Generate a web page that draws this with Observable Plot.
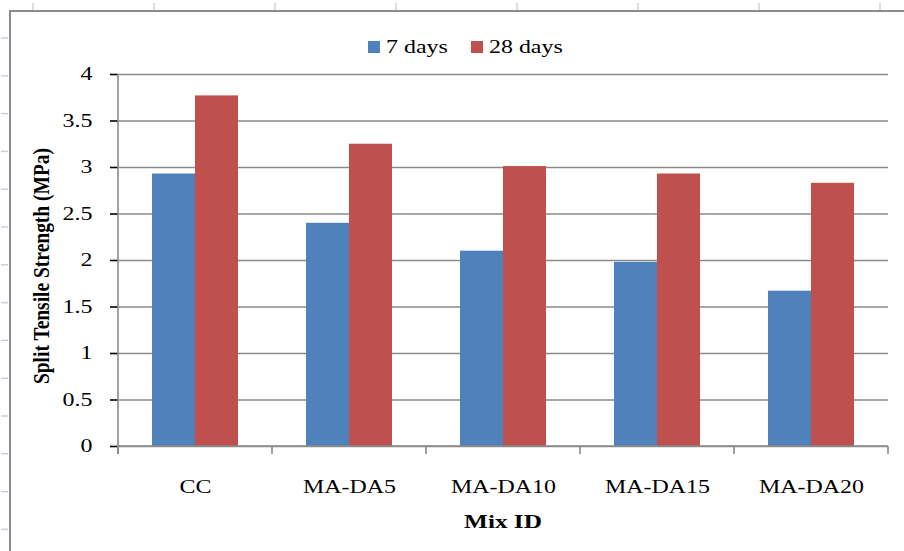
<!DOCTYPE html>
<html><head><meta charset="utf-8">
<script src="https://cdn.jsdelivr.net/npm/d3@7"></script>
<script src="https://cdn.jsdelivr.net/npm/@observablehq/plot@0.6"></script>
<style>
body{margin:0;background:#fff}
#chart{position:relative;width:904px;height:551px;overflow:hidden}
</style>
</head><body><div id="chart"></div>
<script>
const categories = ["CC", "MA-DA5", "MA-DA10", "MA-DA15", "MA-DA20"];
const series = ["7 days", "28 days"];
const days7 = [2.93, 2.40, 2.10, 1.98, 1.67];
const days28 = [3.77, 3.25, 3.01, 2.93, 2.83];
const colors = ["#4F81BD", "#C0504D"];
const yTicks = [0, 0.5, 1, 1.5, 2, 2.5, 3, 3.5, 4];
const yTitle = "Split Tensile Strength (MPa)";
const xTitle = "Mix ID";

const data = categories.flatMap((c, i) => [
  {cat: c, series: series[0], value: days7[i]},
  {cat: c, series: series[1], value: days28[i]}
]);

const FONT = "'Liberation Serif','Times New Roman',serif";
const GRID = "#8a8a8a";
const STRETCH = 1.33;

const plot = Plot.plot({
  width: 904, height: 551,
  marginLeft: 116, marginRight: 15, marginTop: 74, marginBottom: 105,
  style: {fontFamily: FONT, fontSize: "18px", color: "#000", background: "transparent", overflow: "visible"},
  fx: {domain: categories, padding: 0, label: null, axis: "bottom", tickSize: 0, tickPadding: 34},
  x: {domain: series, paddingInner: 0, paddingOuter: 0.76, axis: null},
  y: {domain: [0, 4], ticks: yTicks, label: null, tickSize: 8, tickPadding: 18, tickFormat: d => String(d)},
  color: {domain: series, range: colors},
  marks: [
    Plot.gridY(yTicks, {stroke: GRID, strokeOpacity: 1, strokeWidth: 1.6}),
    Plot.barY(data, {fx: "cat", x: "series", y: "value", fill: "series"})
  ]
});

document.getElementById("chart").append(plot);
const svg = d3.select(plot);

svg.selectAll("[aria-label='y-axis tick']").attr("stroke", GRID).attr("stroke-width", 1.6);

const fx = plot.scale("fx");
const y = plot.scale("y");
const y0 = y.apply(0), y4 = y.apply(4);

// decorations (background sheet + chart border)
const deco = svg.insert("g", ":first-child");
const sheet = "#c8d0e2";
for (let x = 33; x < 904; x += 121) deco.append("line").attr("x1", x).attr("x2", x).attr("y1", 3).attr("y2", 10).attr("stroke", sheet).attr("stroke-width", 1.5);
for (let yy = 38; yy < 551; yy += 37.8) deco.append("line").attr("x1", 1).attr("x2", 8).attr("y1", yy).attr("y2", yy).attr("stroke", sheet).attr("stroke-width", 1.5);
deco.append("path").attr("d", "M10,560V11H910").attr("fill", "none").attr("stroke", "#8c8c8c").attr("stroke-width", 2);

// axis lines and category boundary ticks
const ax = svg.append("g").attr("stroke", GRID).attr("stroke-width", 1.6);
const left = fx.apply(categories[0]);
const bounds = categories.map(c => fx.apply(c)).concat([fx.apply(categories[categories.length - 1]) + fx.bandwidth]);
ax.append("line").attr("x1", left).attr("x2", left).attr("y1", y4).attr("y2", y0 + 8);
bounds.forEach(b => ax.append("line").attr("x1", b).attr("x2", b).attr("y1", y0).attr("y2", y0 + 8));
ax.append("line").attr("x1", left).attr("x2", bounds[bounds.length - 1]).attr("y1", y0).attr("y2", y0);

// titles
svg.append("text").attr("transform", `translate(41,${(y0 + y4) / 2 + 6}) scale(1.2,1) rotate(-90)`)
  .attr("text-anchor", "middle").attr("dy", "0.35em").attr("font-weight", "bold").attr("font-size", 19.5)
  .attr("font-family", FONT).attr("fill", "#000").text(yTitle);
svg.append("text").attr("class", "stretch").attr("x", (left + bounds[bounds.length - 1]) / 2).attr("y", 521)
  .attr("text-anchor", "middle").attr("dy", "0.35em").attr("font-weight", "bold").attr("font-size", 19)
  .attr("font-family", FONT).attr("fill", "#000").text(xTitle);

// legend
const lg = svg.append("g").attr("font-family", FONT).attr("font-size", 18).attr("text-anchor", "start");
const legX = [368, 471];
series.forEach((s, i) => {
  lg.append("rect").attr("x", legX[i]).attr("y", 41).attr("width", 12).attr("height", 12).attr("fill", colors[i]);
  lg.append("text").attr("class", "stretch").attr("x", legX[i] + 18).attr("y", 47).attr("dy", "0.35em").attr("fill", "#000").text(s);
});

// emulate the horizontally stretched text of the reference: wrap each text in a scaled group
const toStretch = [
  ...plot.querySelectorAll("[aria-label='y-axis tick label'] text"),
  ...plot.querySelectorAll("[aria-label='fx-axis tick label'] text"),
  ...plot.querySelectorAll("text.stretch")
];
toStretch.forEach(t => {
  const r = t.getBoundingClientRect();
  const anchor = getComputedStyle(t).textAnchor;
  const sx = anchor === "end" ? r.right : anchor === "middle" ? (r.left + r.right) / 2 : r.left;
  const g = document.createElementNS("http://www.w3.org/2000/svg", "g");
  t.parentNode.insertBefore(g, t);
  g.appendChild(t);
  const m = g.getScreenCTM().inverse();
  const p = plot.createSVGPoint(); p.x = sx; p.y = r.top;
  const lp = p.matrixTransform(m);
  g.setAttribute("transform", `translate(${lp.x},0) scale(${STRETCH},1) translate(${-lp.x},0)`);
});
</script>
</body></html>
